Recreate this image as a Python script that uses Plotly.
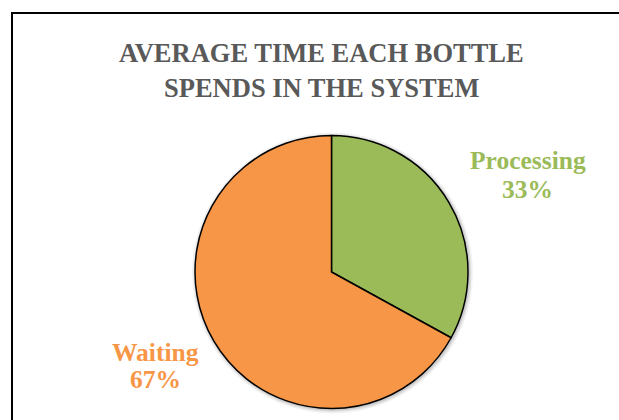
import plotly.graph_objects as go

# Chart data
categories = ["Processing", "Waiting"]
shares = [33, 67]
slice_colors = ["#9BBB59", "#F79646"]
title_lines = ["AVERAGE TIME EACH BOTTLE", "SPENDS IN THE SYSTEM"]

W, H = 619, 420
CX, CY, R = 331.5, 272.0, 136.5   # pie centre / radius in pixels (from top-left)


def px(x):
    return x / W


def py(y):
    return (H - y) / H


fig = go.Figure()
fig.add_trace(go.Pie(
    labels=categories,
    values=shares,
    sort=False,
    direction="clockwise",
    rotation=0,
    marker=dict(colors=slice_colors, line=dict(color="#000000", width=1.5)),
    textinfo="none",
    hoverinfo="label+percent",
    showlegend=False,
    domain=dict(x=[px(CX - R), px(CX + R)], y=[py(CY + R), py(CY - R)]),
))

# soft drop shadow behind the pie
shapes = []
for grow, alpha in [(4.0, 0.05), (2.5, 0.07), (1.2, 0.09)]:
    shapes.append(dict(
        type="circle", xref="paper", yref="paper", layer="below",
        x0=px(CX - R - grow + 1), x1=px(CX + R + grow + 1),
        y0=py(CY + R + grow + 1), y1=py(CY - R - grow + 1),
        fillcolor=f"rgba(0,0,0,{alpha})", line=dict(width=0),
    ))

# chart frame (runs off the right and bottom edges)
shapes.append(dict(
    type="rect", xref="paper", yref="paper",
    x0=px(12), x1=1.05, y0=-0.05, y1=py(13),
    line=dict(color="#000000", width=2), fillcolor="rgba(0,0,0,0)",
))


def text_line(text, x, y, size, color):
    return dict(
        text=text, x=px(x), y=py(y), xref="paper", yref="paper",
        xanchor="center", yanchor="middle", showarrow=False,
        font=dict(family="Liberation Serif", size=size, color=color, weight="bold"),
    )


annotations = [
    text_line(title_lines[0], 321.7, 53.0, 26.5, "#595959"),
    text_line(title_lines[1], 321.7, 88.0, 26.5, "#595959"),
]

# (x centre, first-line y, second-line y) for each slice label
label_pos = {"Processing": (527.5, 160.5, 189.5), "Waiting": (155.5, 352.5, 379.5)}
total = sum(shares)
for name, val, col in zip(categories, shares, slice_colors):
    lx, y1, y2 = label_pos[name]
    annotations.append(text_line(name, lx, y1, 25.5, col))
    annotations.append(text_line(f"{round(100 * val / total)}%", lx, y2, 25.5, col))

fig.update_layout(
    width=W, height=H,
    margin=dict(l=0, r=0, t=0, b=0),
    paper_bgcolor="#FFFFFF",
    plot_bgcolor="#FFFFFF",
    shapes=shapes,
    annotations=annotations,
)

fig.write_html("out.html")
